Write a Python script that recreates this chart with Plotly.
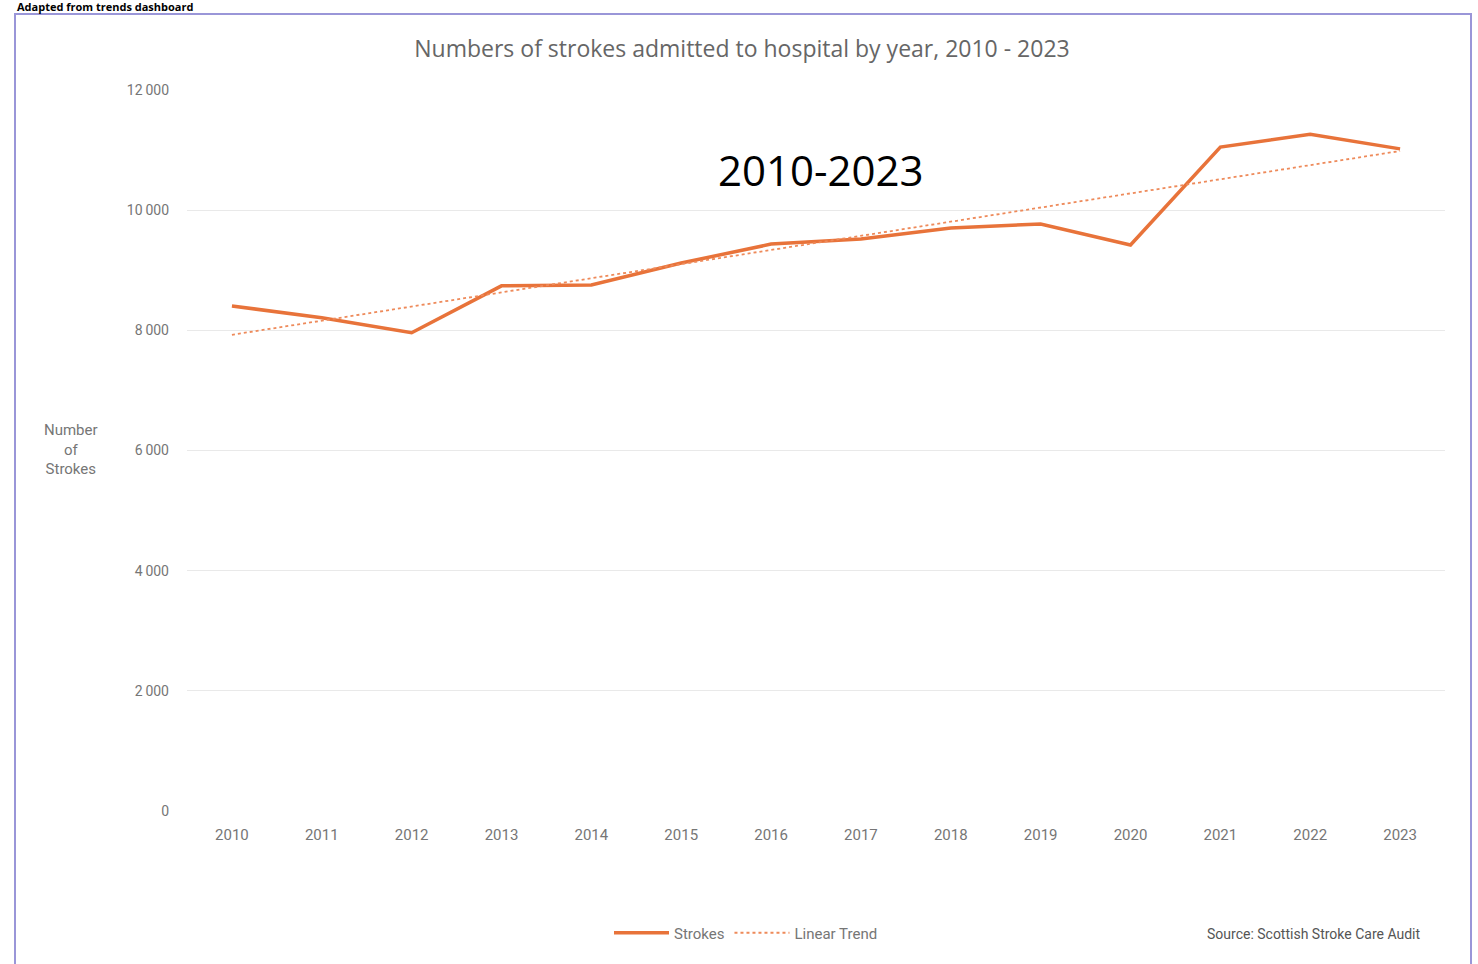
import numpy as np
import plotly.graph_objects as go

# Annual stroke admissions
years = ["2010", "2011", "2012", "2013", "2014", "2015", "2016",
         "2017", "2018", "2019", "2020", "2021", "2022", "2023"]
strokes = [8405, 8210, 7960, 8740, 8755, 9120, 9435,
           9520, 9705, 9770, 9420, 11050, 11265, 11020]

y_tick_vals = [0, 2000, 4000, 6000, 8000, 10000, 12000]
y_tick_text = ["0", "2\u2009000", "4\u2009000", "6\u2009000", "8\u2009000", "10\u2009000", "12\u2009000"]

# Least-squares linear trend over the series
idx = np.arange(len(years))
slope, intercept = np.polyfit(idx, strokes, 1)
trend = (slope * idx + intercept).tolist()

W, H = 1478, 964
L, R, T, B = 187, 33, 90, 153
PW, PH = W - L - R, H - T - B


def px(x):
    return (x - L) / PW


def py(y):
    return (H - B - y) / PH


ORANGE = "#E8733A"
GREY = "#767676"

fig = go.Figure()
fig.add_trace(go.Scatter(
    x=years, y=strokes, mode="lines", name="Strokes",
    line=dict(color=ORANGE, width=3.5),
))
fig.add_trace(go.Scatter(
    x=years, y=trend, mode="lines", name="Linear Trend",
    line=dict(color="#EE8A5A", width=1.8, dash="dot"),
))

fig.update_layout(
    width=W, height=H,
    margin=dict(l=L, r=R, t=T, b=B),
    paper_bgcolor="white",
    plot_bgcolor="white",
    font=dict(family="Roboto, sans-serif", color=GREY, size=14),
    title=dict(
        text="Numbers of strokes admitted to hospital by year, 2010 - 2023",
        x=742 / W, xanchor="center",
        y=1 - 49 / H, yanchor="middle", yref="container",
        font=dict(family="Open Sans, sans-serif", size=23, color="#666666"),
    ),
    xaxis=dict(
        type="category", range=[-0.5, 13.5],
        showgrid=False, zeroline=False, showline=False,
        ticks="", ticklabelstandoff=13,
        tickfont=dict(size=15, color=GREY),
    ),
    yaxis=dict(
        range=[0, 12000], tickvals=y_tick_vals, ticktext=y_tick_text,
        showgrid=True, gridcolor="#e9e9e9", gridwidth=1.2,
        zeroline=False, showline=False, ticks="",
        ticklabelstandoff=17,
        tickfont=dict(size=14, color=GREY),
    ),
    showlegend=True,
    legend=dict(
        orientation="h", x=px(746), xanchor="center",
        y=py(933), yanchor="middle",
        font=dict(size=15, color=GREY),
        bgcolor="rgba(0,0,0,0)", itemwidth=55,
    ),
)

fig.add_annotation(
    text="Number<br>of<br>Strokes", xref="paper", yref="paper",
    x=px(71), y=py(449), xanchor="center", yanchor="middle",
    showarrow=False, align="center",
    font=dict(size=15, color=GREY),
)
fig.add_annotation(
    text="2010-2023", xref="paper", yref="paper",
    x=px(821), y=py(170), xanchor="center", yanchor="middle",
    showarrow=False, font=dict(family="Open Sans, sans-serif", size=42, color="black"),
)
fig.add_annotation(
    text="Source: Scottish Stroke Care Audit", xref="paper", yref="paper",
    x=px(1422), y=py(934), xanchor="right", yanchor="middle",
    showarrow=False, font=dict(size=14, color="#555555"),
)
fig.add_annotation(
    text="<b>Adapted from trends dashboard</b>", xref="paper", yref="paper",
    x=px(15), y=py(6), xanchor="left", yanchor="middle",
    showarrow=False, font=dict(family="Open Sans, sans-serif", size=11, color="black"),
)

# Frame around the chart panel
fig.add_shape(
    type="rect", xref="paper", yref="paper",
    x0=px(15), x1=px(1471), y0=py(990), y1=py(14),
    line=dict(color="#9a96d8", width=2), fillcolor="rgba(0,0,0,0)",
    layer="above",
)

fig.write_html("out.html")
